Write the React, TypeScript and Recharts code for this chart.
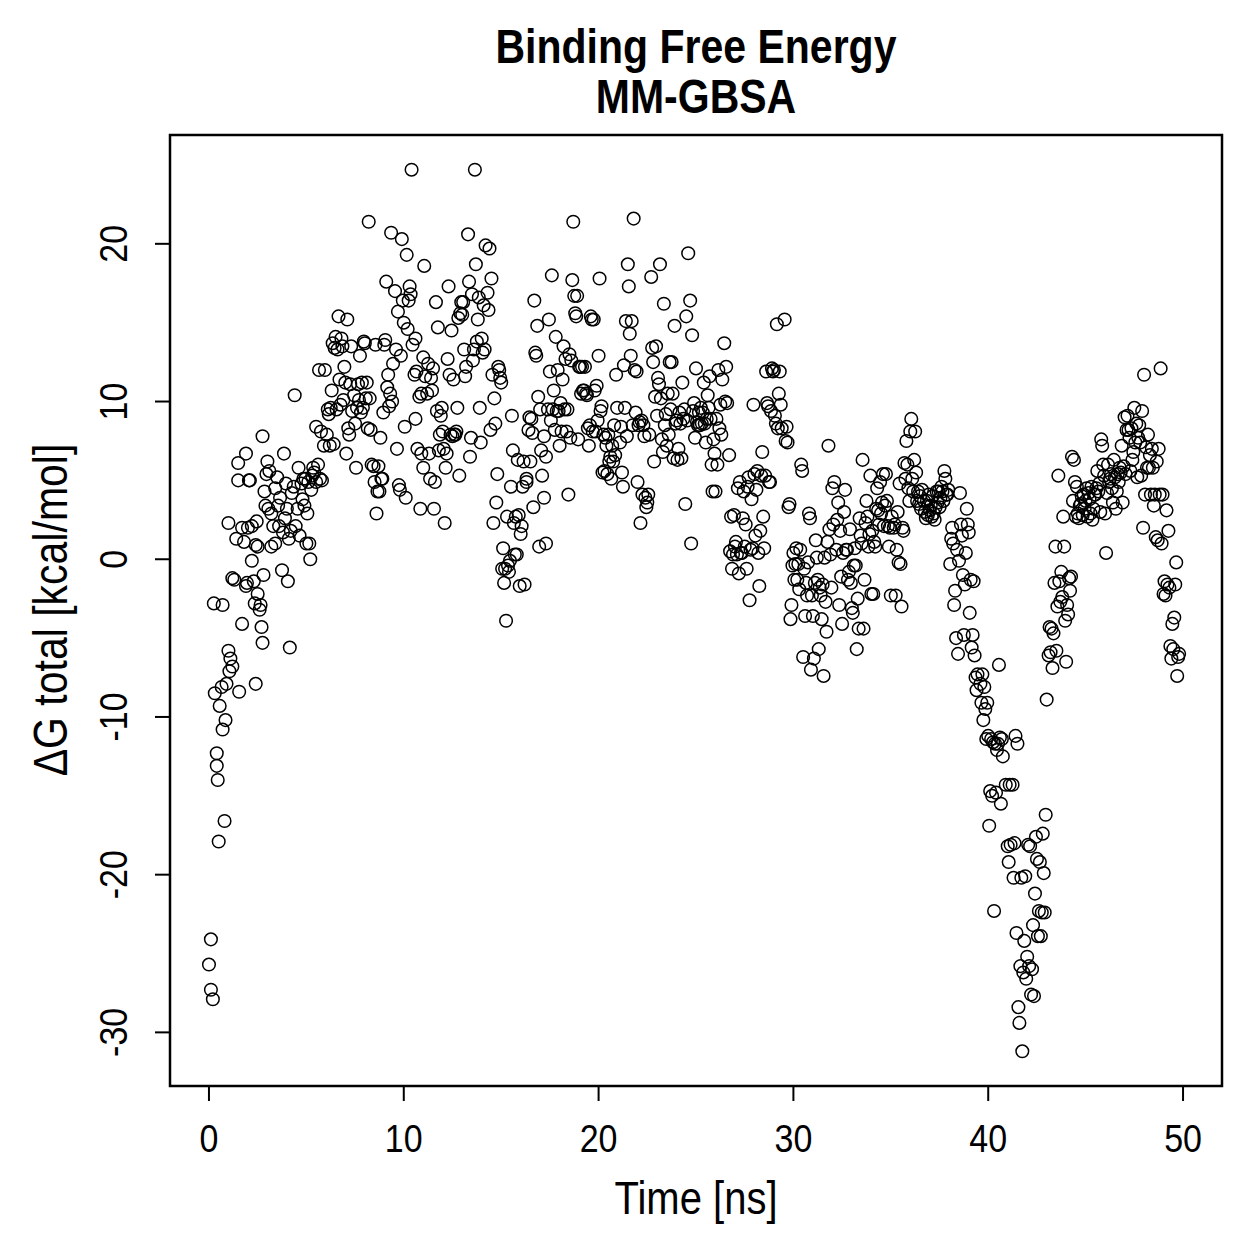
import { ScatterChart, Scatter, XAxis, YAxis, ReferenceArea } from 'recharts';

// ΔG samples, [time ns, kcal/mol] in time order
const seg00: number[][] = [
    [0, -25.7], [0.1, -24.1], [0.1, -27.3], [0.2, -27.9], [0.25, -2.8], [0.3, -8.5], [0.4, -12.3], [0.4, -13.1],
    [0.45, -14.0], [0.5, -17.9], [0.55, -9.3], [0.65, -8.1], [0.7, -2.9], [0.7, -10.8], [0.8, -16.6], [0.85, -10.2],
    [0.9, -7.9], [1.0, 2.3], [1.0, -5.8], [1.05, -7.1], [1.1, -6.3], [1.2, -6.8], [1.2, -1.2], [1.3, -1.3],
    [1.4, 1.3], [1.5, 6.1], [1.5, 5.0], [1.55, -8.4], [1.7, -4.1], [1.7, 2.0], [1.8, 1.1], [1.9, -1.7],
    [1.9, 6.7], [1.95, -1.5], [2.0, 2.0], [2.05, 5.0], [2.1, 5.0], [2.2, 2.1], [2.2, -0.1], [2.3, -1.4],
    [2.35, -2.8], [2.4, 0.9], [2.4, -7.9], [2.45, 2.4], [2.5, -2.2], [2.5, 0.8], [2.6, -3.2], [2.65, -2.9],
    [2.7, -4.3], [2.75, 7.8], [2.75, -5.3], [2.8, -1.0], [2.85, 4.3], [2.9, 3.4], [2.95, 5.4], [3.0, 6.2],
    [3.05, 3.2], [3.1, 5.6], [3.2, 2.9], [3.2, 0.8], [3.3, 2.1], [3.4, 4.5], [3.4, 1.0], [3.5, 5.2],
    [3.55, 3.4], [3.6, 2.1], [3.65, 3.9], [3.75, -0.7], [3.8, 1.7], [3.85, 6.7], [3.9, 2.6], [3.95, 4.8],
    [4.0, 3.2], [4.05, -1.4], [4.1, 1.3], [4.15, -5.6], [4.2, 1.8], [4.25, 4.2], [4.35, 4.6], [4.4, 10.4],
    [4.45, 2.1], [4.55, 3.2], [4.6, 5.8], [4.65, 1.5], [4.75, 4.8], [4.8, 3.8], [4.85, 5.1], [4.9, 3.4],
    [4.95, 5.1], [5.0, 1.0], [5.05, 2.9], [5.1, 4.9], [5.15, 1.0], [5.2, 0.0], [5.25, 4.4], [5.3, 5.3],
    [5.35, 5.8], [5.4, 5.5], [5.5, 8.4], [5.5, 4.9], [5.6, 6.0], [5.65, 12.0], [5.7, 5.1], [5.75, 8.1],
    [5.8, 5.0], [5.9, 7.2], [5.95, 12.0],
];

const seg06: number[][] = [
    [6.05, 7.9], [6.1, 9.5], [6.15, 9.2], [6.2, 7.2], [6.25, 9.6], [6.3, 10.7], [6.35, 13.7], [6.4, 7.3],
    [6.45, 13.4], [6.5, 14.1], [6.55, 9.5], [6.6, 13.3], [6.65, 15.4], [6.7, 11.4], [6.75, 9.8], [6.8, 14.0],
    [6.85, 13.5], [6.9, 10.1], [6.95, 12.2], [7.0, 11.2], [7.05, 6.7], [7.1, 15.2], [7.15, 8.3], [7.2, 7.9],
    [7.25, 11.1], [7.3, 13.5], [7.35, 9.4], [7.45, 10.4], [7.5, 8.6], [7.55, 5.8], [7.6, 9.6], [7.65, 11.1],
    [7.7, 10.1], [7.75, 12.9], [7.8, 9.3], [7.85, 11.2], [7.9, 9.6], [7.95, 13.8], [8.0, 13.7], [8.05, 10.2],
    [8.1, 11.2], [8.15, 8.3], [8.2, 21.4], [8.25, 10.2], [8.3, 8.2], [8.35, 6.0], [8.45, 5.9], [8.5, 4.9],
    [8.55, 13.6], [8.6, 2.9], [8.65, 4.3], [8.7, 5.9], [8.75, 4.3], [8.8, 7.7], [8.85, 5.1], [8.9, 5.1],
    [8.95, 9.3], [9.0, 13.6], [9.05, 13.9], [9.1, 17.6], [9.15, 10.9], [9.2, 11.7], [9.25, 9.7], [9.3, 10.5],
    [9.35, 20.7], [9.4, 10.0], [9.45, 12.4], [9.55, 17.0], [9.6, 13.3], [9.65, 7.0], [9.7, 15.7], [9.75, 4.7],
    [9.8, 4.4], [9.85, 12.9], [9.9, 20.3], [9.95, 16.4], [10.0, 15.0], [10.05, 8.4], [10.1, 3.9], [10.15, 19.3],
    [10.2, 14.6], [10.25, 16.4], [10.3, 17.3], [10.35, 16.8], [10.4, 24.7], [10.45, 13.6], [10.55, 11.7], [10.6, 14.0],
    [10.6, 8.9], [10.65, 11.9], [10.7, 7.0], [10.8, 10.3], [10.85, 3.2], [10.9, 10.5], [10.9, 6.7], [11.0, 5.8],
    [11.0, 12.8], [11.05, 18.6], [11.1, 11.6], [11.2, 10.5], [11.25, 12.4], [11.3, 6.7], [11.35, 5.1], [11.4, 11.5],
    [11.45, 10.7], [11.5, 12.1], [11.55, 3.2], [11.6, 4.9], [11.65, 16.3], [11.7, 9.4], [11.75, 14.7], [11.8, 6.9],
    [11.85, 7.9], [11.9, 9.1], [11.95, 9.6],
];

const seg12: number[][] = [
    [12.0, 8.1], [12.05, 7.0], [12.1, 2.3], [12.15, 5.8], [12.2, 6.7], [12.25, 12.7], [12.3, 17.3], [12.35, 11.7],
    [12.4, 7.9], [12.45, 14.5], [12.5, 7.8], [12.55, 11.4], [12.6, 7.9], [12.65, 7.9], [12.7, 8.1], [12.75, 9.6],
    [12.8, 15.3], [12.85, 5.3], [12.9, 15.6], [12.95, 16.3], [13.0, 15.5], [13.05, 16.3], [13.1, 13.3], [13.15, 11.6],
    [13.2, 12.2], [13.3, 20.6], [13.35, 17.6], [13.4, 6.5], [13.45, 7.7], [13.5, 16.8], [13.55, 12.6], [13.6, 13.3],
    [13.65, 24.7], [13.7, 18.7], [13.75, 13.8], [13.8, 15.2], [13.85, 16.6], [13.9, 9.6], [13.95, 7.4], [14.0, 14.0],
    [14.05, 13.1], [14.1, 16.1], [14.15, 13.3], [14.2, 19.9], [14.3, 16.9], [14.35, 15.8], [14.4, 19.7], [14.45, 8.2],
    [14.5, 17.8], [14.55, 11.7], [14.6, 2.3], [14.65, 10.2], [14.7, 8.6], [14.75, 3.6], [14.8, 5.4], [14.85, 12.2],
    [14.9, 12.0], [14.95, 11.5], [15.0, 11.2], [15.05, -0.6], [15.1, 0.7], [15.15, -1.5], [15.2, -0.6], [15.25, -3.9],
    [15.3, 2.7], [15.35, -0.4], [15.4, -0.8], [15.45, -0.1], [15.5, 4.6], [15.55, 9.1], [15.6, 6.9], [15.65, 2.3],
    [15.7, 0.3], [15.75, 2.7], [15.8, 0.3], [15.85, 6.3], [15.9, 2.8], [15.95, -1.7], [16.0, 1.6], [16.05, 2.1],
    [16.1, 4.6], [16.15, 6.2], [16.2, -1.6], [16.3, 4.9], [16.3, 5.1], [16.4, 8.2], [16.45, 9.0], [16.5, 6.2],
    [16.55, 8.9], [16.6, 8.0], [16.65, 3.3], [16.7, 16.4], [16.75, 13.1], [16.8, 12.9], [16.85, 14.8], [16.9, 10.3],
    [16.95, 0.8], [17.0, 9.5], [17.05, 6.9], [17.1, 5.3], [17.2, 3.9], [17.2, 7.8], [17.3, 6.5], [17.3, 1.0],
    [17.4, 9.5], [17.45, 15.2], [17.5, 11.9], [17.55, 8.8], [17.6, 18.0], [17.65, 9.5], [17.7, 10.7], [17.75, 8.2],
    [17.8, 14.1], [17.85, 9.4], [17.9, 12.0], [17.95, 9.4],
];

const seg18: number[][] = [
    [18.0, 7.2], [18.05, 9.9], [18.1, 8.1], [18.15, 11.4], [18.2, 13.5], [18.25, 9.5], [18.3, 12.7], [18.35, 8.1],
    [18.4, 9.5], [18.45, 4.1], [18.5, 13.0], [18.55, 7.7], [18.6, 12.6], [18.65, 17.7], [18.7, 21.4], [18.75, 16.7],
    [18.8, 15.6], [18.85, 15.4], [18.9, 16.7], [18.95, 7.6], [19.0, 12.2], [19.05, 12.2], [19.1, 10.5], [19.15, 12.2],
    [19.2, 10.7], [19.25, 10.7], [19.3, 12.2], [19.35, 10.5], [19.4, 10.4], [19.45, 8.3], [19.5, 7.2], [19.55, 8.5],
    [19.6, 15.4], [19.65, 15.2], [19.7, 8.1], [19.75, 15.2], [19.8, 10.7], [19.85, 8.1], [19.9, 11.0], [19.95, 8.8],
    [20.0, 12.9], [20.05, 17.8], [20.1, 9.4], [20.15, 9.7], [20.2, 5.5], [20.25, 7.9], [20.3, 5.6], [20.35, 7.7],
    [20.4, 7.2], [20.45, 5.4], [20.5, 7.9], [20.55, 6.2], [20.6, 6.5], [20.65, 5.1], [20.7, 7.2], [20.75, 6.2],
    [20.8, 8.5], [20.85, 6.6], [20.9, 11.7], [20.95, 9.6], [21.1, 7.4], [21.15, 8.4], [21.2, 5.5], [21.25, 4.6],
    [21.3, 12.3], [21.35, 9.6], [21.4, 15.1], [21.45, 7.8], [21.5, 18.7], [21.55, 17.3], [21.6, 14.3], [21.65, 12.9],
    [21.7, 15.1], [21.75, 8.5], [21.8, 21.6], [21.85, 12.0], [21.9, 9.3], [21.95, 11.9], [22.0, 4.9], [22.05, 8.5],
    [22.1, 8.7], [22.15, 2.3], [22.2, 8.8], [22.25, 4.1], [22.3, 8.5], [22.35, 7.8], [22.4, 3.9], [22.45, 3.3],
    [22.5, 3.6], [22.55, 4.1], [22.6, 7.9], [22.7, 17.9], [22.75, 13.4], [22.8, 12.5], [22.85, 6.2], [22.9, 10.3],
    [22.95, 13.5], [23.0, 9.1], [23.05, 11.5], [23.1, 11.1], [23.15, 18.7], [23.2, 10.2], [23.25, 7.6], [23.3, 6.8],
    [23.35, 16.2], [23.4, 8.5], [23.45, 9.2], [23.5, 7.2], [23.55, 10.5], [23.6, 7.9], [23.65, 12.5], [23.7, 9.5],
    [23.75, 12.5], [23.8, 10.5], [23.85, 6.4], [23.9, 14.8], [23.95, 8.6],
];

const seg24: number[][] = [
    [24.0, 8.8], [24.05, 6.3], [24.1, 7.0], [24.15, 9.3], [24.2, 8.6], [24.25, 6.4], [24.3, 11.2], [24.35, 8.9],
    [24.4, 9.5], [24.45, 3.5], [24.5, 15.4], [24.55, 8.8], [24.6, 19.4], [24.7, 16.4], [24.75, 1.0], [24.8, 14.2],
    [24.85, 9.4], [24.9, 9.9], [24.95, 7.7], [25.0, 12.1], [25.05, 8.7], [25.1, 8.5], [25.15, 9.3], [25.2, 8.5],
    [25.25, 9.6], [25.3, 8.6], [25.35, 9.3], [25.4, 11.2], [25.45, 8.6], [25.5, 7.4], [25.55, 8.9], [25.6, 10.4],
    [25.65, 9.6], [25.7, 11.6], [25.75, 8.9], [25.8, 6.0], [25.85, 4.3], [25.9, 7.6], [25.95, 6.7], [26.0, 4.3],
    [26.05, 8.9], [26.1, 6.0], [26.15, 12.0], [26.2, 8.3], [26.25, 9.8], [26.3, 7.9], [26.35, 11.4], [26.45, 13.7],
    [26.5, 10.0], [26.55, 12.2], [26.6, 9.9], [26.7, 6.6], [26.75, 0.5], [26.8, 2.7], [26.85, -0.6], [26.9, 0.3],
    [26.95, 2.8], [27.0, 0.8], [27.05, 1.1], [27.1, 0.3], [27.15, 4.5], [27.2, -0.9], [27.25, 4.9], [27.3, 0.4],
    [27.35, 0.4], [27.4, 2.6], [27.45, 4.3], [27.5, 0.8], [27.55, 2.2], [27.6, -0.6], [27.65, 4.6], [27.7, 5.2],
    [27.75, -2.6], [27.8, 0.6], [27.85, 3.8], [27.9, 0.7], [27.95, 9.8], [28.0, 5.4], [28.05, 1.5], [28.1, 4.4],
    [28.15, 5.6], [28.2, 0.4], [28.25, -1.7], [28.3, 1.8], [28.35, 5.3], [28.4, 6.8], [28.45, 2.7], [28.5, 0.7],
    [28.55, 5.3], [28.6, 11.9], [28.65, 9.9], [28.7, 9.7], [28.75, 4.9], [28.8, 4.9], [28.85, 9.4], [28.9, 12.1],
    [28.95, 11.9], [29.0, 12.0], [29.05, 9.1], [29.1, 8.6], [29.15, 14.9], [29.2, 8.3], [29.25, 10.5], [29.3, 11.9],
    [29.35, 9.8], [29.4, 8.3], [29.55, 15.2], [29.6, 7.5], [29.65, 8.4], [29.7, 7.4], [29.75, 3.3], [29.8, 3.5],
    [29.85, -3.8], [29.9, -2.9], [29.95, -0.4],
];

const seg30: number[][] = [
    [30.0, 0.4], [30.05, -1.3], [30.1, -0.3], [30.15, 0.7], [30.2, -1.3], [30.25, -0.3], [30.3, -1.9], [30.35, 0.6],
    [30.4, 6.0], [30.45, 5.6], [30.5, -6.2], [30.55, -0.6], [30.6, -3.6], [30.65, -1.5], [30.7, -2.3], [30.75, -0.2],
    [30.8, 2.9], [30.85, 2.6], [30.9, -7.0], [30.95, -2.3], [31.0, -3.6], [31.05, -6.3], [31.1, -1.5], [31.15, 1.2],
    [31.2, 0.1], [31.25, -1.3], [31.3, -5.7], [31.35, -1.8], [31.4, -2.3], [31.45, -3.8], [31.5, -1.6], [31.55, -7.4],
    [31.6, 0.1], [31.65, -2.7], [31.7, -4.6], [31.75, 1.1], [31.8, 7.2], [31.85, 1.9], [31.9, 0.3], [31.95, -1.8],
    [32.0, 4.5], [32.05, 2.2], [32.1, 4.9], [32.2, 0.6], [32.25, 2.5], [32.3, 3.6], [32.35, -2.9], [32.4, 1.8],
    [32.45, -1.1], [32.5, -4.1], [32.55, 0.4], [32.6, 3.0], [32.65, 4.4], [32.7, 0.6], [32.75, 0.6], [32.8, -1.3],
    [32.85, -0.8], [32.9, 1.9], [32.95, -1.5], [33.0, -3.1], [33.05, -3.4], [33.1, -0.4], [33.15, 0.7], [33.2, -0.4],
    [33.25, -5.7], [33.3, -2.5], [33.35, -4.4], [33.4, 2.6], [33.45, 1.5], [33.5, 1.0], [33.55, 6.3], [33.6, -4.4],
    [33.65, -1.3], [33.7, 2.3], [33.75, 3.7], [33.8, 2.7], [33.85, 0.8], [33.9, 1.6], [33.95, 5.3], [34.0, -2.2],
    [34.05, 1.8], [34.1, -2.2], [34.15, 1.1], [34.2, 0.8], [34.25, 3.2], [34.3, 4.5], [34.35, 3.1], [34.4, 2.2],
    [34.45, 4.9], [34.5, 2.9], [34.55, 3.6], [34.6, 5.4], [34.65, 2.1], [34.7, 3.4], [34.75, 5.4], [34.8, 3.7],
    [34.85, 2.1], [34.9, 0.8], [34.95, 2.0], [35.0, -2.3], [35.05, 2.7], [35.15, 2.0], [35.2, 2.2], [35.25, -2.3],
    [35.3, 0.6], [35.35, 3.0], [35.4, -0.2], [35.45, 4.8], [35.5, -0.3], [35.55, -3.0], [35.6, 2.0], [35.65, 1.8],
    [35.7, 6.1], [35.75, 5.1], [35.8, 7.5], [35.85, 6.0], [35.9, 4.5], [35.95, 3.7],
];

const seg36: number[][] = [
    [36.0, 8.1], [36.05, 8.9], [36.1, 5.1], [36.15, 4.3], [36.2, 6.3], [36.25, 8.1], [36.3, 5.5], [36.35, 3.7],
    [36.4, 4.3], [36.45, 3.5], [36.5, 4.0], [36.55, 3.2], [36.6, 4.4], [36.7, 3.7], [36.75, 3.0], [36.8, 2.6],
    [36.85, 3.7], [36.9, 2.8], [36.95, 4.1], [37.0, 3.1], [37.05, 3.4], [37.1, 2.7], [37.15, 4.0], [37.2, 2.9],
    [37.25, 2.5], [37.3, 3.3], [37.35, 4.3], [37.4, 3.6], [37.45, 4.3], [37.5, 3.3], [37.55, 3.9], [37.6, 4.6],
    [37.65, 4.3], [37.7, 3.7], [37.75, 5.6], [37.8, 5.1], [37.85, 4.1], [37.9, 4.1], [37.95, 4.4], [38.05, -0.3],
    [38.1, 1.3], [38.15, 2.0], [38.2, 1.0], [38.25, -2.9], [38.3, -2.0], [38.35, -5.0], [38.4, 0.6], [38.45, -6.0],
    [38.5, -0.1], [38.55, 4.2], [38.6, 2.2], [38.65, 1.5], [38.7, -1.0], [38.75, -4.8], [38.8, -1.6], [38.85, 0.4],
    [38.9, 3.2], [38.95, 2.2], [39.0, 1.7], [39.05, -3.4], [39.1, -1.3], [39.15, -5.6], [39.2, -4.8], [39.25, -1.4],
    [39.3, -6.1], [39.35, -7.5], [39.4, -8.3], [39.45, -7.3], [39.6, -7.9], [39.65, -9.1], [39.7, -7.3], [39.75, -10.2],
    [39.8, -8.1], [39.85, -9.5], [39.9, -11.4], [39.95, -9.1], [40.0, -11.2], [40.05, -16.9], [40.1, -14.7], [40.15, -11.4],
    [40.2, -15.0], [40.25, -11.6], [40.3, -22.3], [40.35, -11.7], [40.4, -14.8], [40.45, -12.1], [40.5, -11.7], [40.55, -6.7],
    [40.6, -11.3], [40.65, -15.5], [40.7, -11.4], [40.75, -12.5], [40.9, -14.3], [41.0, -18.2], [41.05, -19.2], [41.1, -14.3],
    [41.15, -18.1], [41.25, -14.3], [41.3, -20.2], [41.35, -18.0], [41.4, -11.2], [41.45, -23.7], [41.5, -11.7], [41.55, -28.4],
    [41.6, -29.4], [41.65, -25.8], [41.7, -20.2], [41.75, -31.2], [41.8, -26.2], [41.85, -24.2], [41.9, -20.1], [41.95, -26.6],
    [42.0, -25.2], [42.05, -18.1], [42.1, -25.8], [42.15, -18.2], [42.2, -27.6], [42.25, -26.0], [42.3, -23.2], [42.35, -27.7],
    [42.4, -21.2], [42.45, -17.6], [42.5, -19.0], [42.55, -23.9], [42.6, -22.3], [42.65, -19.2], [42.7, -23.9], [42.75, -22.4],
    [42.8, -17.4], [42.85, -19.9], [42.9, -22.4], [42.95, -16.2], [43.0, -8.9],
];

const seg43: number[][] = [
    [43.1, -6.1], [43.15, -4.3], [43.2, -5.9], [43.25, -4.4], [43.3, -6.9], [43.35, -4.7], [43.4, -1.5], [43.45, 0.8],
    [43.5, -5.8], [43.55, -3.0], [43.6, 5.3], [43.65, -1.4], [43.7, -2.7], [43.75, -0.8], [43.8, -2.4], [43.85, 2.7],
    [43.9, 0.8], [43.95, -3.9], [44.0, -6.5], [44.05, -2.9], [44.1, -3.5], [44.15, -1.2], [44.2, -2.0], [44.25, -1.1],
    [44.3, 6.5], [44.35, 3.7], [44.4, 6.3], [44.45, 4.9], [44.5, 2.7], [44.55, 4.6], [44.6, 2.9], [44.65, 2.6],
    [44.7, 3.4], [44.75, 3.5], [44.8, 4.0], [44.85, 2.8], [44.9, 4.1], [44.95, 3.2], [45.0, 3.7], [45.05, 4.5],
    [45.1, 2.7], [45.15, 4.2], [45.2, 3.8], [45.25, 2.9], [45.3, 4.6], [45.35, 2.5], [45.4, 3.2], [45.45, 4.1],
    [45.5, 4.1], [45.55, 4.5], [45.6, 5.6], [45.65, 4.3], [45.7, 4.8], [45.75, 3.0], [45.8, 7.6], [45.85, 7.2],
    [45.9, 6.0], [45.95, 5.3], [46.0, 2.9], [46.05, 0.4], [46.1, 4.2], [46.15, 6.0], [46.2, 4.9], [46.25, 5.1],
    [46.3, 5.4], [46.35, 4.5], [46.4, 3.6], [46.45, 6.3], [46.5, 5.2], [46.55, 3.2], [46.6, 4.3], [46.65, 5.4],
    [46.7, 4.9], [46.75, 5.8], [46.8, 5.5], [46.85, 7.2], [46.9, 3.6], [46.95, 5.9], [47.0, 9.0], [47.05, 5.4],
    [47.1, 8.2], [47.15, 9.1], [47.2, 8.2], [47.25, 7.7], [47.3, 5.6], [47.35, 8.3], [47.4, 6.3], [47.45, 6.8],
    [47.5, 9.6], [47.55, 7.4], [47.6, 8.6], [47.65, 5.2], [47.7, 7.7], [47.75, 8.5], [47.8, 7.4], [47.85, 5.3],
    [47.9, 9.4], [47.95, 2.0], [48.0, 11.7], [48.05, 4.1], [48.1, 7.1], [48.15, 5.8], [48.2, 7.9], [48.25, 5.8],
    [48.3, 6.6], [48.35, 4.1], [48.4, 7.0], [48.45, 5.8], [48.5, 3.4], [48.55, 4.1], [48.6, 1.4], [48.65, 6.2],
    [48.7, 1.2], [48.75, 7.0], [48.8, 4.1], [48.85, 12.1], [48.9, 1.0], [48.95, 4.1], [49.0, -2.2], [49.05, -1.4],
    [49.1, -2.3], [49.15, 3.1], [49.2, -1.6], [49.25, 1.8], [49.3, -1.8], [49.35, -5.5], [49.4, -6.3], [49.45, -4.1],
    [49.5, -5.7], [49.55, -3.7], [49.6, -1.6], [49.65, -0.2], [49.7, -7.4], [49.75, -6.2], [49.8, -6.0],
];

const timeTicks = [0, 10, 20, 30, 40, 50];
const energyTicks = [-30, -20, -10, 0, 10, 20];

const points = [...seg00, ...seg06, ...seg12, ...seg18, ...seg24, ...seg30, ...seg36, ...seg43].map(([t, g]) => ({ t, g }));

const FONT = '"Liberation Sans", Arial, Helvetica, sans-serif';
// R's Helvetica renders a bit taller than Liberation at the same width
const TALL = 1.15;

const Ring = (props: any) => (
    <circle cx={props.cx} cy={props.cy} r={6.3} fill="none" stroke="#000" strokeWidth={1.5} />
);

const XTick = (props: any) => (
    <text transform={`translate(${props.x}, ${props.y + 49}) scale(1, ${TALL})`} textAnchor="middle"
        fontFamily={FONT} fontSize={34} fill="#000">
        {props.payload.value}
    </text>
);

const YTick = (props: any) => (
    <text transform={`translate(${props.x - 26}, ${props.y}) rotate(-90) scale(1, ${TALL})`} textAnchor="middle"
        fontFamily={FONT} fontSize={34} fill="#000">
        {props.payload.value}
    </text>
);

export default function App() {
    return (
        <div style={{ position: 'absolute', left: 0, top: 0, width: 1259, height: 1259, background: '#fff', fontFamily: FONT }}>
            <div style={{ position: 'absolute', left: 170, width: 1052, top: 28, height: 88, textAlign: 'center', fontWeight: 'bold', fontSize: 41, lineHeight: '44px', transform: `scaleY(${TALL})` }}>
                Binding Free Energy<br />MM-GBSA
            </div>
            <div style={{ position: 'absolute', left: 170, width: 1052, top: 1176, textAlign: 'center', fontSize: 40, transform: `scaleY(${TALL})` }}>
                Time [ns]
            </div>
            <div style={{ position: 'absolute', left: 51, top: 610, width: 600, marginLeft: -300, marginTop: -25, height: 50, lineHeight: '50px', textAlign: 'center', fontSize: 41, transform: `rotate(-90deg) scaleY(${TALL})` }}>
                ΔG total [kcal/mol]
            </div>
            <ScatterChart width={1259} height={1259} margin={{ top: 135, right: 37, bottom: 113, left: 90 }}>
                <XAxis type="number" dataKey="t" domain={[-2, 52]} ticks={timeTicks} height={60}
                    axisLine={false} tickLine={{ stroke: '#000', strokeWidth: 2 }} tickSize={15} tick={<XTick />}
                    allowDataOverflow />
                <YAxis type="number" dataKey="g" domain={[-33.4, 26.9]} ticks={energyTicks} width={80}
                    axisLine={false} tickLine={{ stroke: '#000', strokeWidth: 2 }} tickSize={15} tick={<YTick />}
                    allowDataOverflow />
                <ReferenceArea x1={-2} x2={52} y1={-33.4} y2={26.9} fill="none" stroke="#000" strokeWidth={2.5} />
                <Scatter data={points} shape={<Ring />} isAnimationActive={false} />
            </ScatterChart>
        </div>
    );
}
